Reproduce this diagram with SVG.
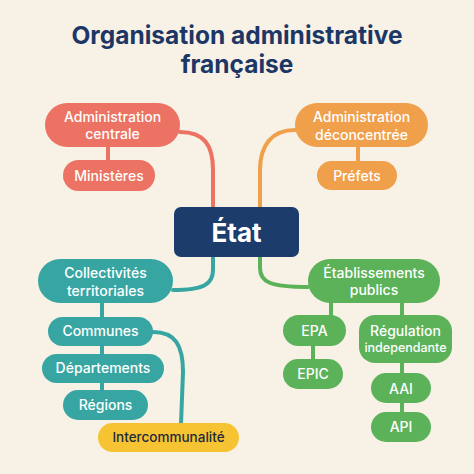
<svg xmlns="http://www.w3.org/2000/svg" width="474" height="474" viewBox="0 0 474 474">
<style>
text{font-family:Inter,"Open Sans","Liberation Sans",sans-serif;text-anchor:middle}
.t{font-size:14px;font-weight:500;fill:#ffffff}
.title{font-size:24.5px;font-weight:700;fill:#1c3766}
.red{fill:#ec7263}.org{fill:#f0a04b}.teal{fill:#37a6a3}.grn{fill:#5bb259}.yel{fill:#f6c432}
.c{fill:none;stroke-width:4;stroke-linecap:round}
</style>
<rect width="474" height="474" fill="#f8f1e5"/>
<text class="title" x="237" y="44">Organisation administrative</text>
<text class="title" x="237" y="73">française</text>
<g id="connectors">
<path class="c" stroke="#ec7263" d="M180,132 C204,132 213,145 213,170 L213,208"/>
<path class="c" stroke="#ec7263" d="M108,147 L108,160"/>
<path class="c" stroke="#f0a04b" d="M295,130 C272,130 260,145 260,170 L260,208"/>
<path class="c" stroke="#f0a04b" d="M358,147 L358,161"/>
<path class="c" stroke="#37a6a3" d="M213,256 L213,270 C213,284 204,290 173,290"/>
<path class="c" stroke="#37a6a3" d="M102,303 L102,390"/>
<path class="c" stroke="#37a6a3" d="M153,332 C175,332 183,345 183,372 L181,424"/>
<path class="c" stroke="#5bb259" d="M260,256 L260,268 C260,282 270,287 308,287"/>
<path class="c" stroke="#5bb259" d="M331,303 L331,315"/>
<path class="c" stroke="#5bb259" d="M313,346 L313,359"/>
<path class="c" stroke="#5bb259" d="M402,303 L402,315"/>
<path class="c" stroke="#5bb259" d="M402,363 L402,412"/>
</g>
<g id="etat"><rect x="174" y="207" width="125" height="50" rx="7" fill="#1c3d6b"/><text x="236.5" y="242" style="font-size:26px;font-weight:700;fill:#fff">État</text></g>
<g id="admin-centrale"><rect class="red" x="45" y="103" width="135" height="44" rx="22"/><text class="t" x="112.5" y="122">Administration</text><text class="t" x="112.5" y="139">centrale</text></g>
<g id="ministeres"><rect class="red" x="63" y="160" width="92" height="31" rx="15.5"/><text class="t" x="109" y="181">Ministères</text></g>
<g id="admin-deconcentree"><rect class="org" x="295" y="103" width="133" height="44" rx="22"/><text class="t" x="361.5" y="122">Administration</text><text class="t" x="361.5" y="140">déconcentrée</text></g>
<g id="prefets"><rect class="org" x="317" y="161" width="80" height="29" rx="14.5"/><text class="t" x="357" y="181">Préfets</text></g>
<g id="collectivites"><rect class="teal" x="38" y="259" width="135" height="44" rx="22"/><text class="t" x="105.5" y="278">Collectivités</text><text class="t" x="105.5" y="296">territoriales</text></g>
<g id="communes"><rect class="teal" x="48" y="317" width="105" height="29" rx="14.5"/><text class="t" x="100.5" y="336">Communes</text></g>
<g id="departements"><rect class="teal" x="42" y="354" width="122" height="29" rx="14.5"/><text class="t" x="103" y="373">Départements</text></g>
<g id="regions"><rect class="teal" x="63" y="390" width="85" height="30" rx="15"/><text class="t" x="105.5" y="410">Régions</text></g>
<g id="intercommunalite"><rect class="yel" x="98" y="423" width="141" height="29" rx="14.5"/><text x="168.5" y="442" style="font-size:13.5px;font-weight:500;fill:#1f2a3a">Intercommunalité</text></g>
<g id="etablissements"><rect class="grn" x="308" y="259" width="132" height="44" rx="22"/><text class="t" x="374" y="278">Établissements</text><text class="t" x="374" y="295">publics</text></g>
<g id="epa"><rect class="grn" x="283" y="315" width="63" height="31" rx="15.5"/><text class="t" x="314.5" y="336">EPA</text></g>
<g id="epic"><rect class="grn" x="283" y="359" width="60" height="30" rx="15"/><text class="t" x="313" y="379">EPIC</text></g>
<g id="regulation"><rect class="grn" x="359" y="315" width="93" height="48" rx="16"/><text class="t" x="405.5" y="336">Régulation</text><text class="t" x="405.5" y="352" style="font-size:12.5px">independante</text></g>
<g id="aai"><rect class="grn" x="371" y="373" width="60" height="30" rx="15"/><text class="t" x="401" y="394">AAI</text></g>
<g id="api"><rect class="grn" x="371" y="412" width="60" height="30" rx="15"/><text class="t" x="401" y="432">API</text></g>
</svg>
